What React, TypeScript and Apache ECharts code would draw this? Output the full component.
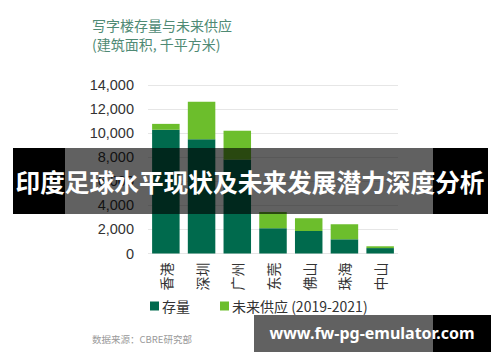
import React, { useEffect, useRef } from "react";
import * as echarts from "echarts";

const categories = ["香港", "深圳", "广州", "东莞", "佛山", "珠海", "中山"];
const stockValues = [10280, 9500, 7800, 2100, 1870, 1180, 450];
const futureValues = [490, 3100, 2400, 1350, 1060, 1250, 150];
const yTicks = [0, 2000, 4000, 6000, 8000, 10000, 12000, 14000];
const seriesNames = ["存量", "未来供应 (2019-2021)"];

const DARK = "#006a4d";
const LIGHT = "#6cbe2c";
const CJK = "'Noto Sans CJK SC', 'Noto Sans', sans-serif";
const NUM = "'Liberation Sans', Arial, 'Noto Sans CJK SC', sans-serif";

export default function App() {
  const ref = useRef<HTMLDivElement>(null);
  useEffect(() => {
    if (!ref.current) return;
    const chart = echarts.init(ref.current, null, { renderer: "svg" });
    chart.setOption({
      animation: false,
      backgroundColor: "#ffffff",
      grid: { left: 148, right: 102, top: 85, bottom: 108.5, containLabel: false },
      legend: {
        left: 145,
        top: 294,
        itemWidth: 9,
        itemHeight: 9,
        itemGap: 30,
        icon: "rect",
        textStyle: { fontSize: 14, color: "#333", fontFamily: CJK, padding: [0, 0, 0, -2] },
        data: seriesNames,
      },
      xAxis: {
        type: "category",
        data: categories,
        axisLine: { show: false },
        axisTick: { show: false },
        axisLabel: { rotate: 90, fontSize: 14, color: "#333", fontFamily: CJK, margin: 9 },
      },
      yAxis: {
        type: "value",
        min: yTicks[0],
        max: yTicks[yTicks.length - 1],
        interval: 2000,
        axisLine: { show: false },
        axisTick: { show: false },
        splitLine: { lineStyle: { color: "#e6e6e6", width: 1 } },
        axisLabel: {
          fontSize: 14.5,
          color: "#333",
          fontFamily: NUM,
          margin: 14,
          formatter: (v: number) => v.toLocaleString("en-US"),
        },
      },
      series: [
        {
          name: seriesNames[0],
          type: "bar",
          stack: "total",
          data: stockValues,
          barWidth: 27.5,
          itemStyle: { color: DARK },
        },
        {
          name: seriesNames[1],
          type: "bar",
          stack: "total",
          data: futureValues,
          barWidth: 27.5,
          itemStyle: { color: LIGHT },
        },
      ],
      graphic: [
        {
          type: "text",
          left: 92,
          top: 15,
          style: {
            text: "写字楼存量与未来供应\n(建筑面积, 千平方米)",
            fontSize: 14,
            lineHeight: 19,
            fill: "#4f8a74",
            fontFamily: CJK,
          },
        },
        {
          type: "text",
          left: 92,
          top: 334,
          style: { text: "数据来源：CBRE研究部", fontSize: 9.5, fill: "#9a9a9a", fontFamily: CJK },
        },
        { type: "rect", shape: { x: 13, y: 148, width: 52, height: 66 }, style: { fill: "#000" }, z: 100 },
        { type: "rect", shape: { x: 65, y: 148, width: 368, height: 66 }, style: { fill: "rgba(0,0,0,0.62)" }, z: 100 },
        { type: "rect", shape: { x: 433, y: 148, width: 55, height: 66 }, style: { fill: "#000" }, z: 100 },
        {
          type: "text",
          x: 250,
          y: 181,
          z: 101,
          style: {
            text: "印度足球水平现状及未来发展潜力深度分析",
            fontSize: 24.7,
            fontWeight: "bold",
            fill: "#fff",
            fontFamily: CJK,
            align: "center",
            verticalAlign: "middle",
          },
        },
        { type: "rect", shape: { x: 254, y: 315, width: 179, height: 37 }, style: { fill: "rgba(0,0,0,0.62)" }, z: 100 },
        { type: "rect", shape: { x: 433, y: 315, width: 58, height: 37 }, style: { fill: "#000" }, z: 100 },
        {
          type: "text",
          x: 372,
          y: 333,
          z: 101,
          style: {
            text: "www.fw-pg-emulator.com",
            fontSize: 16,
            fontWeight: "bold",
            fill: "#fff",
            fontFamily: "'Noto Sans', 'DejaVu Sans', sans-serif",
            align: "center",
            verticalAlign: "middle",
          },
        },
      ],
    });
    return () => chart.dispose();
  }, []);
  return <div ref={ref} style={{ width: 500, height: 362, position: "absolute", left: 0, top: 0 }} />;
}
